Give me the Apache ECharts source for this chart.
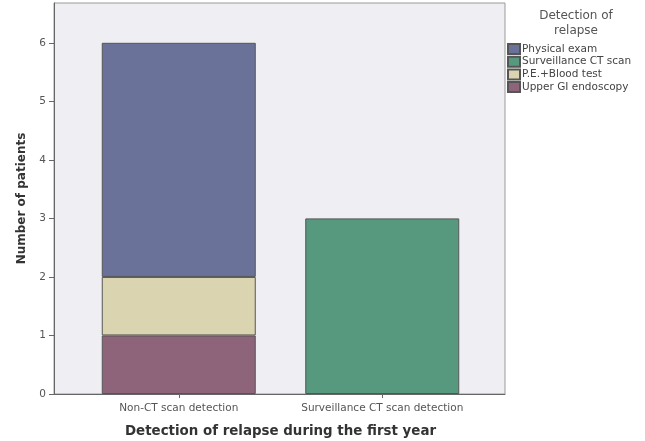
<!DOCTYPE html>
<html><head><meta charset="utf-8">
<script src="https://cdn.jsdelivr.net/npm/echarts@6/dist/echarts.min.js"></script>
<style>html,body{margin:0;padding:0;background:#fff}#c{width:645px;height:441px}</style>
</head><body><div id="c"></div>
<script>
const categories = ["Non-CT scan detection", "Surveillance CT scan detection"];
const seriesNames = ["Physical exam", "Surveillance CT scan", "P.E.+Blood test", "Upper GI endoscopy"];
const upperGI = [1, 0];
const peBlood = [1, 0];
const physical = [4, 0];
const surveillance = [0, 3];
const yTicks = [0, 1, 2, 3, 4, 5, 6];

const colors = {
  "Physical exam": "#6a7299",
  "Surveillance CT scan": "#56997f",
  "P.E.+Blood test": "#dad4b0",
  "Upper GI endoscopy": "#8d6479"
};
const chart = echarts.init(document.getElementById('c'));
const tickFont = {fontFamily: 'DejaVu Sans', fontSize: 10.5, color: '#555'};
const toZero = a => a.map(v => v === 0 ? '-' : v);
function bar(name, data, stack) {
  return {name, type: 'bar', xAxisIndex: 1, yAxisIndex: 1, stack: stack, data: toZero(data),
    barWidth: 154, itemStyle: {color: colors[name], borderColor: '#555', borderWidth: 1}};
}
chart.setOption({
  animation: false,
  grid: [
    {left: 54, top: 3, width: 451, bottom: 47, show: true, backgroundColor: '#efeff3', borderColor: '#999', borderWidth: 1, outerBoundsMode: 'none', containLabel: false},
    {left: 77, top: 3, width: 407, bottom: 47, outerBoundsMode: 'none', containLabel: false}
  ],
  xAxis: [
    {gridIndex: 0, type: 'value', min: 0, max: 1, axisLine: {show: true, lineStyle: {color: '#666'}},
      axisTick: {show: false}, axisLabel: {show: false}, splitLine: {show: false}},
    {gridIndex: 1, type: 'category', data: categories,
      axisLine: {show: false},
      axisTick: {show: true, alignWithLabel: true, length: 4, lineStyle: {color: '#666'}},
      axisLabel: Object.assign({margin: 9, interval: 0, hideOverlap: false}, tickFont),
      name: 'Detection of relapse during the first year', nameLocation: 'middle', nameGap: 31,
      nameTextStyle: {fontFamily: 'DejaVu Sans', fontWeight: 'bold', fontSize: 13.4, color: '#333'}
    }
  ],
  yAxis: [
    {gridIndex: 0, type: 'value', min: 0, max: 6.68, interval: 1,
      axisLine: {show: true, lineStyle: {color: '#666'}},
      axisTick: {show: true, length: 5, lineStyle: {color: '#666'}},
      splitLine: {show: false},
      axisLabel: Object.assign({showMaxLabel: false, margin: 8, formatter: v => yTicks.includes(v) ? String(v) : ''}, tickFont),
      name: 'Number of patients', nameLocation: 'middle', nameGap: 26,
      nameTextStyle: {fontFamily: 'DejaVu Sans', fontWeight: 'bold', fontSize: 12, color: '#333'}
    },
    {gridIndex: 1, type: 'value', min: 0, max: 6.68, show: false}
  ],
  title: {text: 'Detection of\nrelapse', left: 571, top: 3, textAlign: 'center',
    textStyle: {fontFamily: 'DejaVu Sans', fontWeight: 'normal', fontSize: 12, color: '#555', lineHeight: 15}},
  legend: {data: seriesNames, orient: 'vertical', left: 507, top: 43, padding: 0, itemWidth: 12, itemHeight: 10, itemGap: 0.7,
    textStyle: {fontFamily: 'DejaVu Sans', fontSize: 10.5, lineHeight: 12, color: '#444', padding: [0, 0, 0, -3]},
    icon: 'rect', selectedMode: false},
  series: [
    bar('Upper GI endoscopy', upperGI, 'a'),
    bar('P.E.+Blood test', peBlood, 'a'),
    bar('Physical exam', physical, 'a'),
    bar('Surveillance CT scan', surveillance, 'a')
  ]
});
</script></body></html>
